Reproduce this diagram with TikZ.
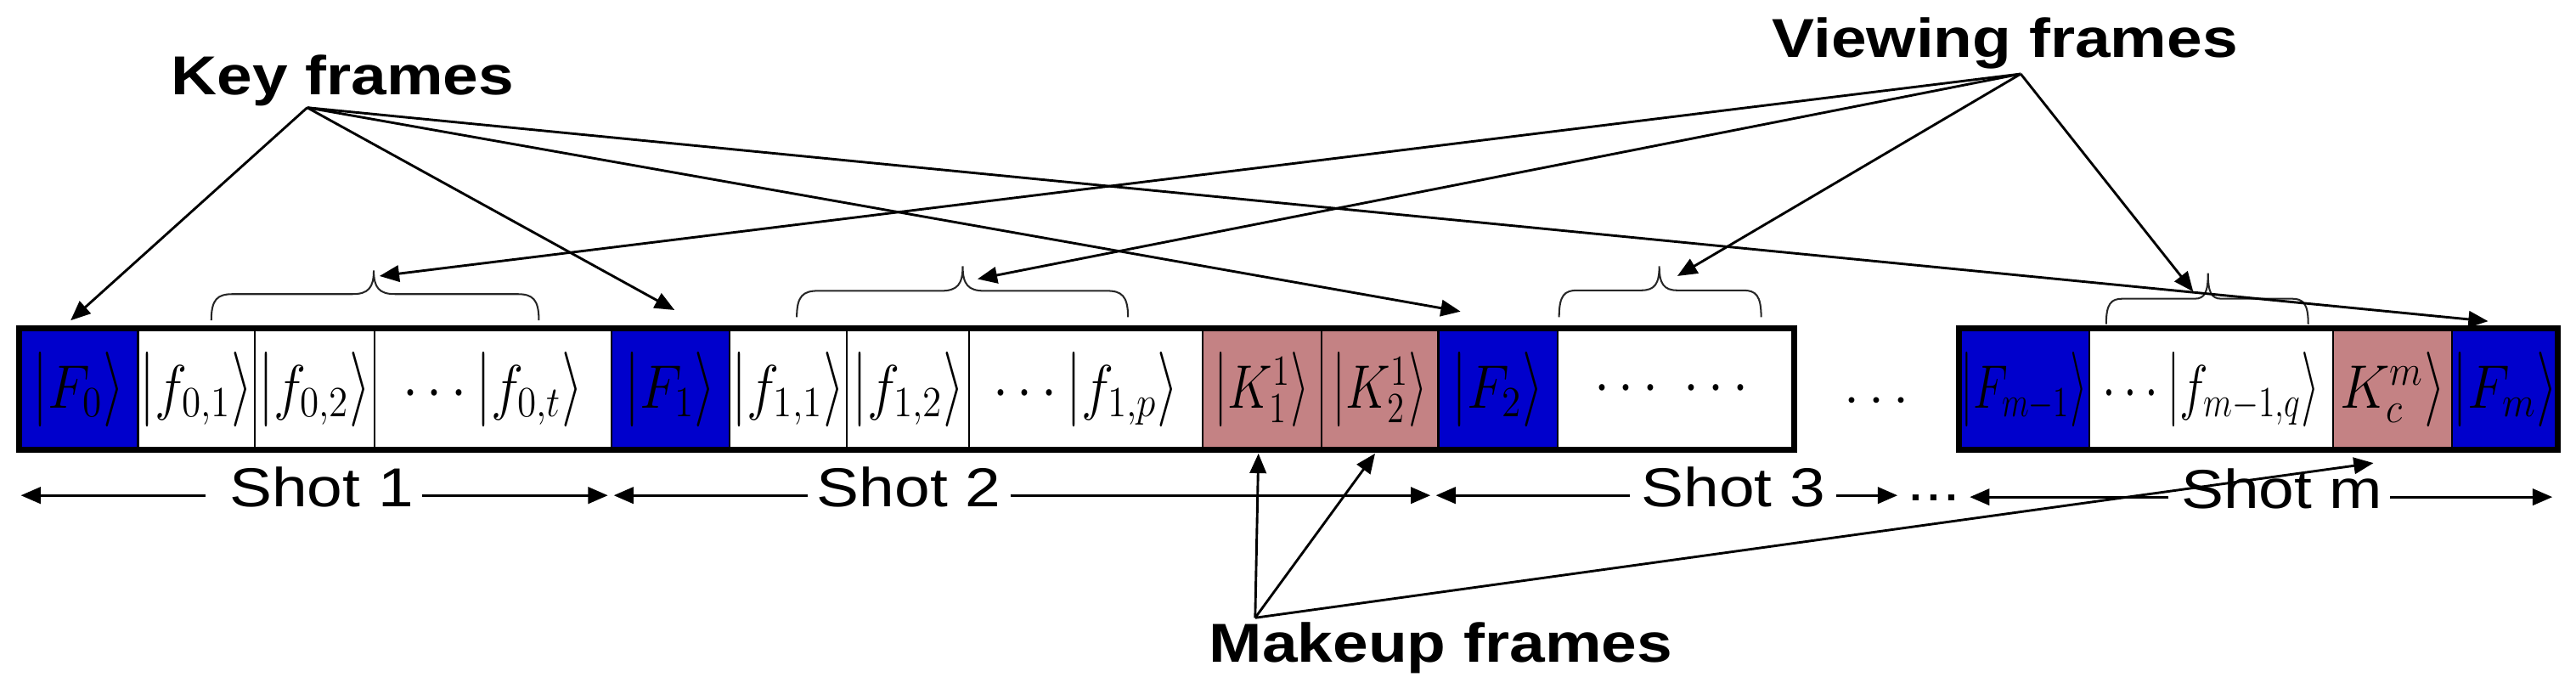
\RequirePackage{fix-cm}
\documentclass[tikz,border=0pt]{standalone}
\usepackage{amsmath}
\usepackage{fontspec}
\newfontfamily\arialx[FakeStretch=1.16]{Liberation Sans}
\usetikzlibrary{arrows.meta,calc}
\definecolor{kblue}{RGB}{0,0,204}
\definecolor{kpink}{RGB}{196,130,132}
\newcommand\kbar{\mathopen{\scalebox{1}[1.22]{$|$}}}
\newcommand\kang{\mathclose{\scalebox{1}[1.22]{$\rangle$}}}
\newcommand\ket[1]{\kbar #1\kang}
\newcommand\kit[1]{#1\kang}
\newcommand\cellnode[5]{\node[cellbox,fill=#4,minimum width={(#3-#2)*0.02cm}] (#1) at ({(#2+#3)/2},236.8) {\scalebox{1}[1.12]{#5}};}
% x1 x2 ybottom yhoriz xtip ytip cusp corner
\newcommand\cbrace[8]{\draw[bracest] (#1,#3) .. controls (#1,{#4+3}) and ({#1+#8*0.3},#4) .. ({#1+#8},#4) -- ({#5-#7},#4) .. controls ({#5-#7*0.25},#4) and (#5,{#4-4}) .. (#5,#6) .. controls (#5,{#4-4}) and ({#5+#7*0.25},#4) .. ({#5+#7},#4) -- ({#2-#8},#4) .. controls ({#2-#8*0.3},#4) and (#2,{#4+3}) .. (#2,#3);}
\begin{document}
\begin{tikzpicture}[x=0.02cm,y=-0.02cm,
  cellbox/.style={draw=black,line width=0.6pt,inner sep=0pt,outer sep=0pt,minimum height=1.48cm,font=\fontsize{19}{22}\selectfont},
  frame/.style={draw=black,line width=2.05pt},
  bracest/.style={draw=black!85,line width=0.6pt},
  conn/.style={line width=0.85pt,-{Triangle[length=0.24cm,width=0.2cm]}},
  lab/.style={font=\arialx\bfseries\fontsize{19}{22}\selectfont,inner sep=0pt,anchor=base},
  shotlab/.style={font=\arialx\fontsize{19}{22}\selectfont,inner sep=0pt,anchor=base}]
\useasboundingbox (0,0) rectangle (1568,422);
% cells, first bar
\cellnode{F0}{11.8}{84}{kblue}{$\ket{F_0}$}
\cellnode{f01}{84}{155}{white}{$\ket{f_{0,1}}$}
\cellnode{f02}{155}{228}{white}{$\ket{f_{0,2}}$}
\cellnode{f0t}{228}{372}{white}{$\cdots\ket{f_{0,t}}$}
\cellnode{F1}{372}{444}{kblue}{$\ket{F_1}$}
\cellnode{f11}{444}{515.6}{white}{$\ket{f_{1,1}}$}
\cellnode{f12}{515.6}{590}{white}{$\ket{f_{1,2}}$}
\cellnode{f1p}{590}{732}{white}{$\cdots\ket{f_{1,p}}$}
\cellnode{K1}{732}{804.5}{kpink}{\scalebox{0.9}[1]{$\ket{K_1^1}$}}
\cellnode{K2}{804.5}{875.5}{kpink}{\scalebox{0.9}[1]{$\ket{K_2^1}$}}
\cellnode{F2}{875.5}{948}{kblue}{$\ket{F_2}$}
\cellnode{dd}{948}{1092.2}{white}{$\cdots\ \cdots$}
% cells, second bar
\cellnode{Fm1}{1192.3}{1272}{kblue}{\scalebox{0.82}[1]{$\ket{F_{m-1}}$}}
\cellnode{fmq}{1272}{1420}{white}{\scalebox{0.88}[1]{$\cdots\ket{f_{m-1,q}}$}}
\cellnode{Kc}{1420}{1493}{kpink}{$\kit{K_c^m}$}
\cellnode{Fm}{1493}{1556.8}{kblue}{$\ket{F_m}$}
\draw[frame] (11.8,199.8) rectangle (1092.2,273.8);
\draw[frame] (1192.3,199.8) rectangle (1556.8,273.8);
\node[font=\fontsize{19}{22}\selectfont,inner sep=0pt] (gapdots) at (1145,244.6) {$\cdots$};
% braces
\cbrace{128.6}{328}{195}{179}{227.5}{164.6}{13}{13}
\cbrace{485}{686.6}{193}{177}{586}{162}{13}{13}
\cbrace{949}{1072}{193}{176.7}{1010}{162}{11}{11}
\cbrace{1282}{1405}{197.3}{181.8}{1344}{166.3}{8}{10}
% labels
\node[lab] (kf) at (208.5,57.7) {Key frames};
\node[lab] (vf) at (1220.5,35) {Viewing frames};
\node[lab] (mf) at (877,403) {Makeup frames};
\coordinate (kapex) at (187,65.5);
\coordinate (vapex) at (1230,45);
\coordinate (mapex) at (764,376);
% key frame arrows
\coordinate (tF0) at (43,195);
\coordinate (tF1) at (410.6,188.7);
\coordinate (tF2) at (889,189.6);
\coordinate (tFm) at (1514.5,195.5);
\draw[conn] (kapex) -- (tF0);
\draw[conn] (kapex) -- (tF1);
\draw[conn] (kapex) -- (tF2);
\draw[conn] (kapex) -- (tFm);
% viewing frame arrows
\coordinate (tb1) at (231,168);
\coordinate (tb2) at (595,169.8);
\coordinate (tb3) at (1021,168);
\coordinate (tb4) at (1335,177.5);
\draw[conn] (vapex) -- (tb1);
\draw[conn] (vapex) -- (tb2);
\draw[conn] (vapex) -- (tb3);
\draw[conn] (vapex) -- (tb4);
% makeup frame arrows
\coordinate (tK1) at (766,276);
\coordinate (tK2) at (837,276);
\coordinate (tKc) at (1444.7,281.8);
\draw[conn] (mapex) -- (tK1);
\draw[conn] (mapex) -- (tK2);
\draw[conn] (mapex) -- (tKc);
% shot row
\node[shotlab] (s1) at (195.7,308.6) {Shot 1};
\node[shotlab] (s2) at (553.3,308.6) {Shot 2};
\node[shotlab] (s3) at (1055,308.6) {Shot 3};
\node[shotlab] (sm) at (1389,309.6) {Shot m};
\node[font=\arialx\fontsize{19}{22}\selectfont,inner sep=0pt] (sdots) at (1177,303) {...};
\coordinate (s1a) at (125,301.5);  \coordinate (s1at) at (12.7,301.5);
\coordinate (s1b) at (257,301.5);  \coordinate (s1bt) at (370,301.5);
\coordinate (s2a) at (491.5,301.5); \coordinate (s2at) at (373.6,301.5);
\coordinate (s2b) at (615,301.5);  \coordinate (s2bt) at (870.7,301.5);
\coordinate (s3a) at (992,301.5);  \coordinate (s3at) at (874,301.5);
\coordinate (s3b) at (1117.5,301.5); \coordinate (s3bt) at (1155,301.5);
\coordinate (sma) at (1320,302.5); \coordinate (smat) at (1199,302.5);
\coordinate (smb) at (1455,302.5); \coordinate (smbt) at (1553.6,302.5);
\foreach \a/\b in {s1a/s1at,s1b/s1bt,s2a/s2at,s2b/s2bt,s3a/s3at,s3b/s3bt,sma/smat,smb/smbt}
  \draw[conn] (\a) -- (\b);
\end{tikzpicture}
\end{document}
